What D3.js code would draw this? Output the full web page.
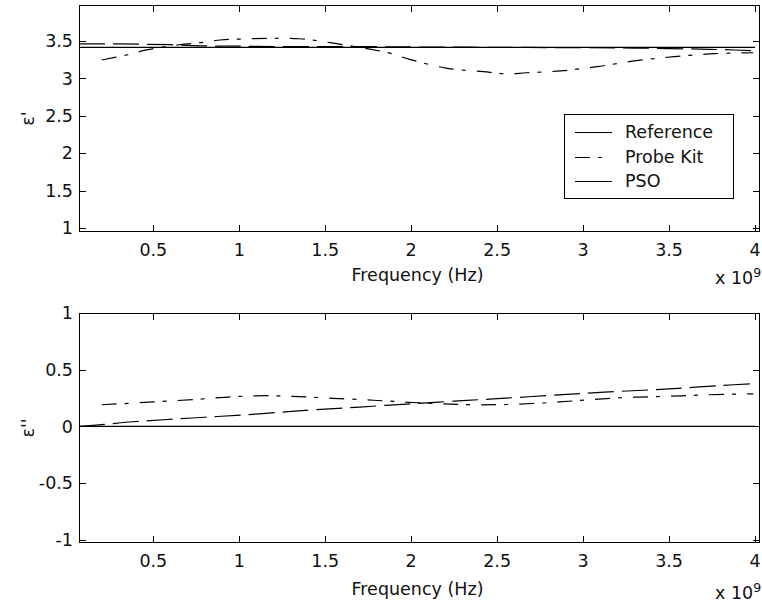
<!DOCTYPE html>
<html><head><meta charset="utf-8">
<script src="https://cdn.jsdelivr.net/npm/d3@7"></script>
<style>
html,body{margin:0;padding:0;background:#fff;}
text{font-family:"DejaVu Sans",sans-serif;fill:#111;}
</style></head>
<body>
<svg id="c" width="762" height="605"></svg>
<script>
// Frequency values in units of 1e9 Hz
const xTicks = [0.5, 1, 1.5, 2, 2.5, 3, 3.5, 4];
const xTickLabels = ["0.5","1","1.5","2","2.5","3","3.5","4"];
const yTicksTop = [1, 1.5, 2, 2.5, 3, 3.5];
const yTickLabelsTop = ["1","1.5","2","2.5","3","3.5"];
const yTicksBot = [-1, -0.5, 0, 0.5, 1];
const yTickLabelsBot = ["-1","-0.5","0","0.5","1"];
const seriesNames = ["Reference", "Probe Kit", "PSO"];

// Top: epsilon'
const refTopF = [0.068, 4.0];
const refTopV = [3.415, 3.415];
const probeTopF = [0.2,0.345,0.46,0.65,0.77,0.89,1.0,1.16,1.35,1.53,1.76,1.88,1.99,2.21,2.42,2.56,2.67,2.87,3.08,3.31,3.53,3.76,3.99];
const probeTopV = [3.246,3.313,3.38,3.45,3.477,3.513,3.525,3.535,3.53,3.477,3.39,3.335,3.255,3.135,3.09,3.06,3.075,3.10,3.157,3.237,3.29,3.33,3.343];
const psoTopF = [0.068,0.3,0.6,0.8,1.0,1.3,1.7,2.0,2.5,3.0,3.3,3.6,3.8,4.0];
const psoTopV = [3.46,3.46,3.45,3.435,3.43,3.425,3.425,3.42,3.415,3.41,3.405,3.395,3.385,3.37];

// Bottom: epsilon''
const refBotF = [0.068, 4.0];
const refBotV = [0, 0];
const probeBotF = [0.2,0.5,0.77,0.97,1.16,1.35,1.55,1.78,1.9,2.01,2.2,2.4,2.63,2.86,3.05,3.28,3.5,3.72,3.99];
const probeBotV = [0.19,0.215,0.24,0.262,0.27,0.262,0.247,0.23,0.22,0.21,0.198,0.19,0.196,0.215,0.236,0.256,0.265,0.278,0.287];
const psoBotF = [0.068,0.2,0.38,0.58,0.8,1.02,1.25,1.45,1.7,2.01,2.25,2.5,2.88,3.1,3.35,3.55,3.8,4.0];
const psoBotV = [0,0.015,0.04,0.06,0.08,0.10,0.125,0.147,0.17,0.2,0.222,0.244,0.279,0.30,0.318,0.335,0.36,0.377];

const svg = d3.select("#c");
const FS = 17.5;
const L = 79, R = 760;
const x = d3.scaleLinear().domain([0.0678, 4.029]).range([L, R]);

const styles = {
  "Reference": null,
  "Probe Kit": "15,8,4,11",
  "PSO": "26,8"
};

function zip(F, V){ return F.map((f,i)=>[f, V[i]]); }

function panel(top, bottom, yDomain, yTicks, yLabels, series, ylabel, xlabelY, expY){
  const y = d3.scaleLinear().domain(yDomain).range([bottom, top]);
  const g = svg.append("g");
  const clipId = "clip" + Math.round(top);
  svg.append("clipPath").attr("id", clipId).append("rect")
    .attr("x", L).attr("y", top).attr("width", R-L).attr("height", bottom-top);

  const line = d3.line().x(d=>x(d[0])).y(d=>y(d[1])).curve(d3.curveCatmullRom.alpha(0.5));
  const lg = g.append("g").attr("clip-path", `url(#${clipId})`);
  series.forEach(s=>{
    lg.append("path").datum(zip(s.F, s.V))
      .attr("d", line).attr("fill","none").attr("stroke","#000")
      .attr("stroke-width",1.2)
      .attr("stroke-dasharray", styles[s.name]);
  });

  // frame
  g.append("rect").attr("x", L+0.5).attr("y", top+0.5).attr("width", R-L-1).attr("height", bottom-top-1)
    .attr("fill","none").attr("stroke","#000").attr("stroke-width",1).attr("shape-rendering","crispEdges");

  const tl = 7;
  xTicks.forEach((t,i)=>{
    const px = Math.round(x(t))+0.5;
    g.append("line").attr("x1",px).attr("x2",px).attr("y1",bottom).attr("y2",bottom-tl)
      .attr("stroke","#000").attr("shape-rendering","crispEdges");
    g.append("line").attr("x1",px).attr("x2",px).attr("y1",top).attr("y2",top+tl)
      .attr("stroke","#000").attr("shape-rendering","crispEdges");
    g.append("text").attr("x", x(t)).attr("y", bottom+24).attr("text-anchor","middle")
      .attr("font-size",FS).text(xTickLabels[i]);
  });
  yTicks.forEach((t,i)=>{
    const py = Math.round(y(t))+0.5;
    g.append("line").attr("x1",L).attr("x2",L+tl).attr("y1",py).attr("y2",py)
      .attr("stroke","#000").attr("shape-rendering","crispEdges");
    g.append("line").attr("x1",R).attr("x2",R-tl).attr("y1",py).attr("y2",py)
      .attr("stroke","#000").attr("shape-rendering","crispEdges");
    g.append("text").attr("x", 73).attr("y", y(t)).attr("dy","0.36em").attr("text-anchor","end")
      .attr("font-size",FS).text(yLabels[i]);
  });

  g.append("text").attr("x", 417.5).attr("y", xlabelY).attr("text-anchor","middle")
    .attr("font-size",FS).text("Frequency (Hz)");
  const ex = g.append("text").attr("x", 715).attr("y", expY).attr("font-size",FS);
  ex.append("tspan").text("x 10");
  ex.append("tspan").attr("dy",-7).attr("font-size",12.5).text("9");
  g.append("text").attr("transform",`translate(34,${(top+bottom)/2}) rotate(-90)`)
    .attr("text-anchor","middle").attr("font-size",FS).text(ylabel);
  return y;
}

panel(5, 232, [0.9465, 3.981], yTicksTop, yTickLabelsTop, [
  {name:"Reference", F:refTopF, V:refTopV},
  {name:"Probe Kit", F:probeTopF, V:probeTopV},
  {name:"PSO", F:psoTopF, V:psoTopV}
], "ε'", 281, 284);

panel(313, 543, [-1.03, 1.0], yTicksBot, yTickLabelsBot, [
  {name:"Reference", F:refBotF, V:refBotV},
  {name:"Probe Kit", F:probeBotF, V:probeBotV},
  {name:"PSO", F:psoBotF, V:psoBotV}
], "ε''", 595, 599);

// legend
const lgd = svg.append("g");
lgd.append("rect").attr("x",564.5).attr("y",114.5).attr("width",169).attr("height",84)
  .attr("fill","#fff").attr("stroke","#000").attr("shape-rendering","crispEdges");
const legY = [132, 157, 181];
const legDash = {"Reference": null, "Probe Kit": "15,8,4,11", "PSO": "40,8"};
seriesNames.forEach((n,i)=>{
  lgd.append("line").attr("x1",575).attr("x2",612).attr("y1",legY[i]+0.5).attr("y2",legY[i]+0.5)
    .attr("stroke","#000").attr("stroke-width",1.2).attr("stroke-dasharray", legDash[n]);
  lgd.append("text").attr("x",625).attr("y",legY[i]).attr("dy","0.36em")
    .attr("font-size",FS).text(n);
});
</script>
</body></html>
